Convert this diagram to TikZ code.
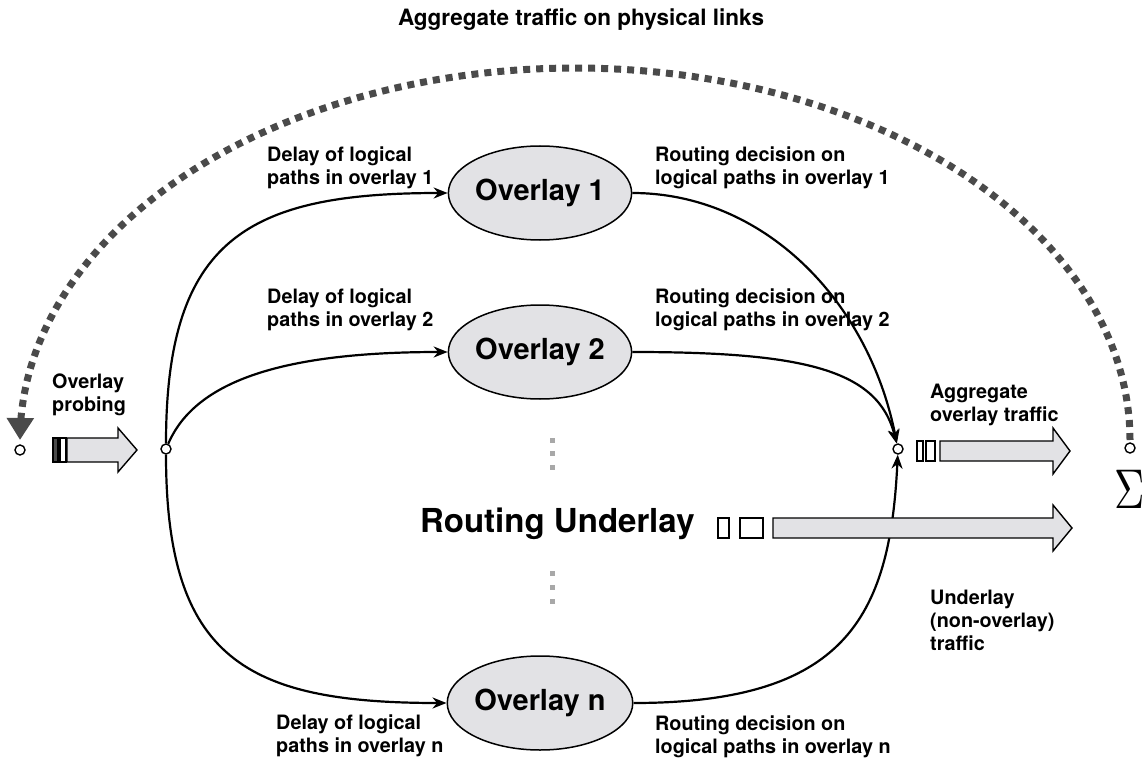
\documentclass[tikz,border=0pt]{standalone}
\usepackage[no-math]{fontspec}
\setmainfont{TeX Gyre Heros}
\usetikzlibrary{arrows.meta,shapes.geometric}
\definecolor{panelgray}{HTML}{E2E2E5}
\definecolor{dashgray}{HTML}{4A4A4A}
\definecolor{dotgray}{HTML}{A8A8A8}

% block arrow: start x, neck x, tip x, centre y, shaft half height, head half height
\newcommand\fatarrow[6]{%
  \draw[blockarrow] (#1,#4-#5) -- (#2,#4-#5) -- (#2,#4-#6) -- (#3,#4)
    -- (#2,#4+#6) -- (#2,#4+#5) -- (#1,#4+#5) -- cycle;}

\begin{document}
\begin{tikzpicture}[x=1pt,y=-1pt,
  lbl/.style={font=\fontsize{19.8}{23}\selectfont\bfseries, anchor=north west,
    align=left, inner sep=0pt},
  overlay/.style={ellipse, draw, line width=1.5pt, fill=panelgray,
    minimum width=176pt, minimum height=94pt, inner sep=0pt,
    font=\fontsize{29}{32}\selectfont\bfseries},
  junction/.style={circle, draw, line width=1.4pt, fill=white,
    minimum size=10pt, inner sep=0pt},
  link/.style={line width=2.2pt, -{Stealth[length=14pt,width=11pt]}},
  blockarrow/.style={line width=1.4pt, fill=panelgray, line join=miter},
  tick/.style={line width=1.4pt, draw},
  gdot/.style={fill=dotgray, draw=none}]

\useasboundingbox (0,0) rectangle (1147,759);

% aggregate traffic arc
\draw[dashgray, line width=7pt, dash pattern=on 7pt off 6pt,
      -{Triangle[width=26pt,length=22pt]}]
  plot[domain=0:180, samples=240] ({575+555*cos(\x)},{440-372*sin(\x)});
\node[lbl, anchor=north, font=\fontsize{22.5}{26}\selectfont\bfseries]
  (agg) at (581,9) {Aggregate traffic on physical links};

\node[junction] (SL) at (20,450) {};
\node[junction] (SR) at (1130,448) {};
\node[xscale=4.2, yscale=5.6] (sum) at (1130,489) {$\Sigma$};

% overlays
\node[overlay] (o1) at (540,193) {Overlay 1};
\node[overlay] (o2) at (540,352) {Overlay 2};
\node[overlay] (on) at (540,703) {Overlay n};

\node[junction] (L) at (166,449) {};
\node[junction] (R) at (898,449) {};

% logical paths
\draw[link] (L) .. controls +(0,-210) and +(-200,0) .. (o1.west);
\draw[link] (L) .. controls +(30,-70) and +(-160,0) .. (o2.west);
\draw[link] (L) .. controls +(0,210) and +(-200,0) .. (on.west);
\draw[link] (o1.east) .. controls +(130,0) and +(-30,-150) .. (R);
\draw[link] (o2.east) .. controls +(170,0) and +(-20,-80) .. (R);
\draw[link] (on.east) .. controls +(210,0) and +(-8,170) .. (R);

% vertical ellipsis
\foreach \yy in {440,453,467,573,587,601}
  \fill[gdot] (550,\yy-2.5) rectangle (554.5,\yy+2.5);

\node[font=\fontsize{33}{36}\selectfont\bfseries, anchor=base west, inner sep=0pt]
  (under) at (420,532) {Routing Underlay};

% probing input
\fill[dashgray] (53,438) rectangle (58,462);
\draw[tick] (53,438) rectangle (58,462);
\draw[tick, fill=white] (60,438) rectangle (66,462);
\fatarrow{67}{118}{137}{450}{12}{22}

% aggregate overlay traffic
\draw[tick, fill=white] (917,441) rectangle (923,461);
\draw[tick, fill=white] (926,441) rectangle (935,461);
\fatarrow{940}{1053}{1070}{451}{10}{23}

% underlay traffic
\draw[tick, fill=white] (718,518) rectangle (729,538);
\draw[tick, fill=white] (740,518) rectangle (763,538);
\fatarrow{773}{1053}{1072}{528}{10}{23}

% labels
\node[lbl] (d1) at (267,147) {Delay of logical\\paths in overlay 1};
\node[lbl] (r1) at (655,147) {Routing decision on\\logical paths in overlay 1};
\node[lbl] (d2) at (267,289) {Delay of logical\\paths in overlay 2};
\node[lbl] (r2) at (655,289) {Routing decision on\\logical paths in overlay 2};
\node[lbl] (pr) at (52,374) {Overlay\\probing};
\node[lbl] (ao) at (930,384) {Aggregate\\overlay traffic};
\node[lbl] (ut) at (930,590) {Underlay\\(non-overlay)\\traffic};
\node[lbl] (dn) at (276,715) {Delay of logical\\paths in overlay n};
\node[lbl] (rn) at (655,716) {Routing decision on\\logical paths in overlay n};
\end{tikzpicture}
\end{document}
